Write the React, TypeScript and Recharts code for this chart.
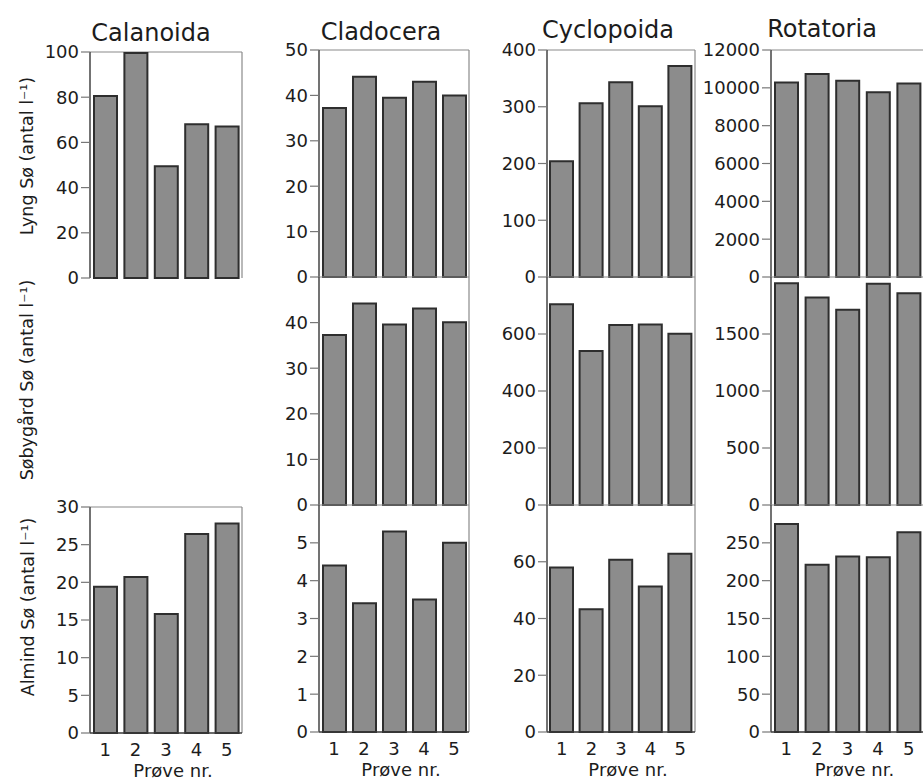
import React from 'react';
import { BarChart, Bar, XAxis, YAxis, CartesianGrid } from 'recharts';

// ---- data ----
const samples = ['1', '2', '3', '4', '5'];
const taxa = ['Calanoida', 'Cladocera', 'Cyclopoida', 'Rotatoria'];
const lakeLabels = ['Lyng Sø (antal l⁻¹)', 'Søbygård Sø (antal l⁻¹)', 'Almind Sø (antal l⁻¹)'];
const xAxisTitle = 'Prøve nr.';

const lyngCalanoida = [80.5, 99.6, 49.5, 68, 67];
const lyngCladocera = [37.2, 44.1, 39.5, 43.0, 40.0];
const lyngCyclopoida = [204, 306, 343, 301, 372];
const lyngRotatoria = [10280, 10730, 10370, 9770, 10230];

const sobCladocera = [37.3, 44.2, 39.6, 43.1, 40.1];
const sobCyclopoida = [704, 540, 632, 633, 601];
const sobRotatoria = [1945, 1820, 1713, 1940, 1857];

const almCalanoida = [19.4, 20.7, 15.8, 26.4, 27.8];
const almCladocera = [4.4, 3.4, 5.3, 3.5, 5.0];
const almCyclopoida = [58, 43.3, 60.7, 51.3, 62.8];
const almRotatoria = [275, 221, 232, 231, 264];

// tick labels and axis maxima
const lyngCalanoidaTicks = [0, 20, 40, 60, 80, 100];
const lyngCladoceraTicks = [0, 10, 20, 30, 40, 50];
const lyngCyclopoidaTicks = [0, 100, 200, 300, 400];
const lyngRotatoriaTicks = [0, 2000, 4000, 6000, 8000, 10000, 12000];
const sobCladoceraTicks = [0, 10, 20, 30, 40];
const sobCyclopoidaTicks = [0, 200, 400, 600];
const sobRotatoriaTicks = [0, 500, 1000, 1500];
const almCalanoidaTicks = [0, 5, 10, 15, 20, 25, 30];
const almCladoceraTicks = [0, 1, 2, 3, 4, 5];
const almCyclopoidaTicks = [0, 20, 40, 60];
const almRotatoriaTicks = [0, 50, 100, 150, 200, 250];

const FONT = "'DejaVu Sans', 'Liberation Sans', Arial, sans-serif";
const TEXT = '#1c1c1c';

type PanelProps = {
  values: number[];
  ticks: number[];
  max: number;
  left: number;
  top: number;
  width: number;
  height: number;
  showX: boolean;
};

// border of the plot box: top edge and right edge, taken from the chart's own offset
const topEdge = ({ offset }: any) => [offset.top];
const rightEdge = ({ offset }: any) => [offset.left + offset.width];

function Panel({ values, ticks, max, left, top, width, height, showX }: PanelProps) {
  const data = samples.map((s, i) => ({ name: s, value: values[i] }));
  const yw = 80;
  const mt = 12;
  const mr = 2;
  const xh = showX ? 50 : 0;
  const mb = showX ? 0 : 12;
  const w = yw + width + mr;
  const h = mt + height + xh + mb;
  return (
    <div style={{ position: 'absolute', left: left - yw, top: top - mt }}>
      <BarChart
        width={w}
        height={h}
        data={data}
        margin={{ top: mt, right: mr, left: 0, bottom: mb }}
        barSize={23}
        barCategoryGap={0}
      >
        <CartesianGrid
          horizontalCoordinatesGenerator={topEdge}
          verticalCoordinatesGenerator={rightEdge}
          stroke="#8a8a8a"
          strokeWidth={1.2}
          fill="none"
        />
        <XAxis
          dataKey="name"
          height={xh}
          tick={showX ? { fill: TEXT, fontSize: 18, fontFamily: FONT } : false}
          tickLine={false}
          tickSize={6}
          tickMargin={4}
          interval={0}
          axisLine={{ stroke: '#3a3a3a', strokeWidth: 1.5 }}
          label={
            showX
              ? { value: xAxisTitle, position: 'insideBottom', offset: 6, dx: 7, fill: TEXT, fontSize: 18, fontFamily: FONT }
              : undefined
          }
        />
        <YAxis
          width={yw}
          domain={[0, max]}
          ticks={ticks}
          interval={0}
          tickSize={9}
          tickMargin={2}
          tick={{ fill: TEXT, fontSize: 18, fontFamily: FONT }}
          tickLine={{ stroke: '#777', strokeWidth: 1.2 }}
          axisLine={{ stroke: '#444', strokeWidth: 1.5 }}
        />
        <Bar dataKey="value" fill="#8c8c8c" stroke="#2e2e2e" strokeWidth={2} isAnimationActive={false} />
      </BarChart>
    </div>
  );
}

export default function App() {
  const colLeft = [90, 319, 547, 771];
  const colWidth = [152, 150, 148, 153];
  const rowTop = [50, 277, 505];
  const rowH = [227, 228, 227];
  return (
    <div
      style={{
        position: 'absolute',
        left: 0,
        top: 0,
        width: 923,
        height: 780,
        overflow: 'hidden',
        background: '#fff',
        fontFamily: FONT,
      }}
    >
      <svg width={923} height={780} style={{ position: 'absolute', left: 0, top: 0 }}>
        <text x={151} y={41} textAnchor="middle" fontSize={24} fill={TEXT} fontFamily={FONT}>{taxa[0]}</text>
        <text x={381} y={40} textAnchor="middle" fontSize={24} fill={TEXT} fontFamily={FONT}>{taxa[1]}</text>
        <text x={608} y={38} textAnchor="middle" fontSize={24} fill={TEXT} fontFamily={FONT}>{taxa[2]}</text>
        <text x={822} y={37} textAnchor="middle" fontSize={24} fill={TEXT} fontFamily={FONT}>{taxa[3]}</text>
        <text transform="translate(33,156) rotate(-90)" textAnchor="middle" fontSize={17.5} fill={TEXT} fontFamily={FONT}>{lakeLabels[0]}</text>
        <text transform="translate(33,380) rotate(-90)" textAnchor="middle" fontSize={17.5} fill={TEXT} fontFamily={FONT}>{lakeLabels[1]}</text>
        <text transform="translate(34,607) rotate(-90)" textAnchor="middle" fontSize={17.5} fill={TEXT} fontFamily={FONT}>{lakeLabels[2]}</text>
      </svg>

      {/* Lyng Sø */}
      <Panel values={lyngCalanoida} ticks={lyngCalanoidaTicks} max={100} left={colLeft[0]} top={52} width={colWidth[0]} height={226} showX={false} />
      <Panel values={lyngCladocera} ticks={lyngCladoceraTicks} max={50} left={colLeft[1]} top={rowTop[0]} width={colWidth[1]} height={rowH[0]} showX={false} />
      <Panel values={lyngCyclopoida} ticks={lyngCyclopoidaTicks} max={400} left={colLeft[2]} top={rowTop[0]} width={colWidth[2]} height={rowH[0]} showX={false} />
      <Panel values={lyngRotatoria} ticks={lyngRotatoriaTicks} max={12000} left={colLeft[3]} top={rowTop[0]} width={colWidth[3]} height={rowH[0]} showX={false} />

      {/* Søbygård Sø */}
      <Panel values={sobCladocera} ticks={sobCladoceraTicks} max={50} left={colLeft[1]} top={rowTop[1]} width={colWidth[1]} height={rowH[1]} showX={false} />
      <Panel values={sobCyclopoida} ticks={sobCyclopoidaTicks} max={800} left={colLeft[2]} top={rowTop[1]} width={colWidth[2]} height={rowH[1]} showX={false} />
      <Panel values={sobRotatoria} ticks={sobRotatoriaTicks} max={2000} left={colLeft[3]} top={rowTop[1]} width={colWidth[3]} height={rowH[1]} showX={false} />

      {/* Almind Sø */}
      <Panel values={almCalanoida} ticks={almCalanoidaTicks} max={30} left={colLeft[0]} top={507} width={colWidth[0]} height={226} showX={true} />
      <Panel values={almCladocera} ticks={almCladoceraTicks} max={6} left={colLeft[1]} top={rowTop[2]} width={colWidth[1]} height={rowH[2]} showX={true} />
      <Panel values={almCyclopoida} ticks={almCyclopoidaTicks} max={80} left={colLeft[2]} top={rowTop[2]} width={colWidth[2]} height={rowH[2]} showX={true} />
      <Panel values={almRotatoria} ticks={almRotatoriaTicks} max={300} left={colLeft[3]} top={rowTop[2]} width={colWidth[3]} height={rowH[2]} showX={true} />
    </div>
  );
}
